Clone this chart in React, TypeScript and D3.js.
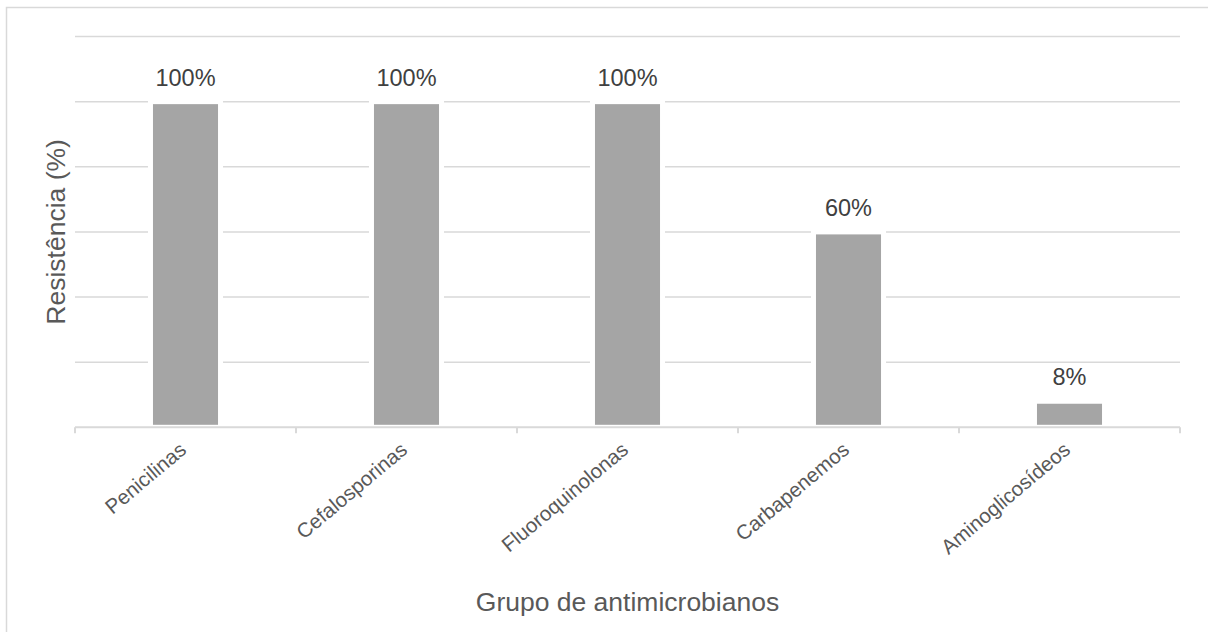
import React from "react";
import * as d3 from "d3";

const categories = ["Penicilinas", "Cefalosporinas", "Fluoroquinolonas", "Carbapenemos", "Aminoglicosídeos"];
const resistance = [100, 100, 100, 60, 8];
const gridTicks = [20, 40, 60, 80, 100, 120];
const xTitle = "Grupo de antimicrobianos";
const yTitle = "Resistência (%)";

const W = 1208;
const H = 632;
const left = 75;
const right = 1180;
const top = 36.5;
const bottom = 427.3;
const FONT = "'Liberation Sans', Arial, sans-serif";

export default function App() {
  const x = d3.scaleBand<string>().domain(categories).range([left, right]).padding(0);
  const y = d3.scaleLinear().domain([0, 120]).range([bottom, top]);
  const bw = x.bandwidth() * 0.317;
  const boundaries = [...categories.map((c) => x(c) as number), right];

  return (
    <svg width={W} height={H} style={{ position: "absolute", left: 0, top: 0 }} fontFamily={FONT}>
      <rect x={0} y={0} width={W} height={H} fill="#fff" />
      <rect x={6.5} y={7.5} width={W + 20} height={H + 20} fill="none" stroke="#d9d9d9" strokeWidth={1.5} />
      {gridTicks.map((t) => (
        <line key={t} x1={left} x2={right} y1={y(t)} y2={y(t)} stroke="#d9d9d9" strokeWidth={1.5} />
      ))}
      {categories.map((c, i) => {
        const cx = (x(c) as number) + x.bandwidth() / 2;
        return (
          <g key={c}>
            <rect
              x={cx - bw / 2}
              y={y(resistance[i])}
              width={bw}
              height={y(0) - y(resistance[i])}
              fill="#a5a5a5"
              stroke="#fff"
              strokeWidth={5}
            />
            <text
              x={cx}
              y={y(resistance[i]) - 16}
              textAnchor="middle"
              fontSize={23.5}
              fill="#404040"
            >
              {resistance[i]}%
            </text>
            <text
              transform={`translate(${cx + 2},${452}) rotate(-40)`}
              textAnchor="end"
              fontSize={20.5}
              fill="#595959"
            >
              {c}
            </text>
          </g>
        );
      })}
      <line x1={left} x2={right} y1={y(0)} y2={y(0)} stroke="#d9d9d9" strokeWidth={2} />
      {boundaries.map((b, i) => (
        <line key={i} x1={b} x2={b} y1={y(0)} y2={y(0) + 6} stroke="#d9d9d9" strokeWidth={2} />
      ))}
      <text x={(left + right) / 2} y={611} textAnchor="middle" fontSize={26.5} fill="#595959">
        {xTitle}
      </text>
      <text
        transform={`translate(65,${(top + bottom) / 2}) rotate(-90)`}
        textAnchor="middle"
        fontSize={26.5}
        fill="#595959"
      >
        {yTitle}
      </text>
    </svg>
  );
}
